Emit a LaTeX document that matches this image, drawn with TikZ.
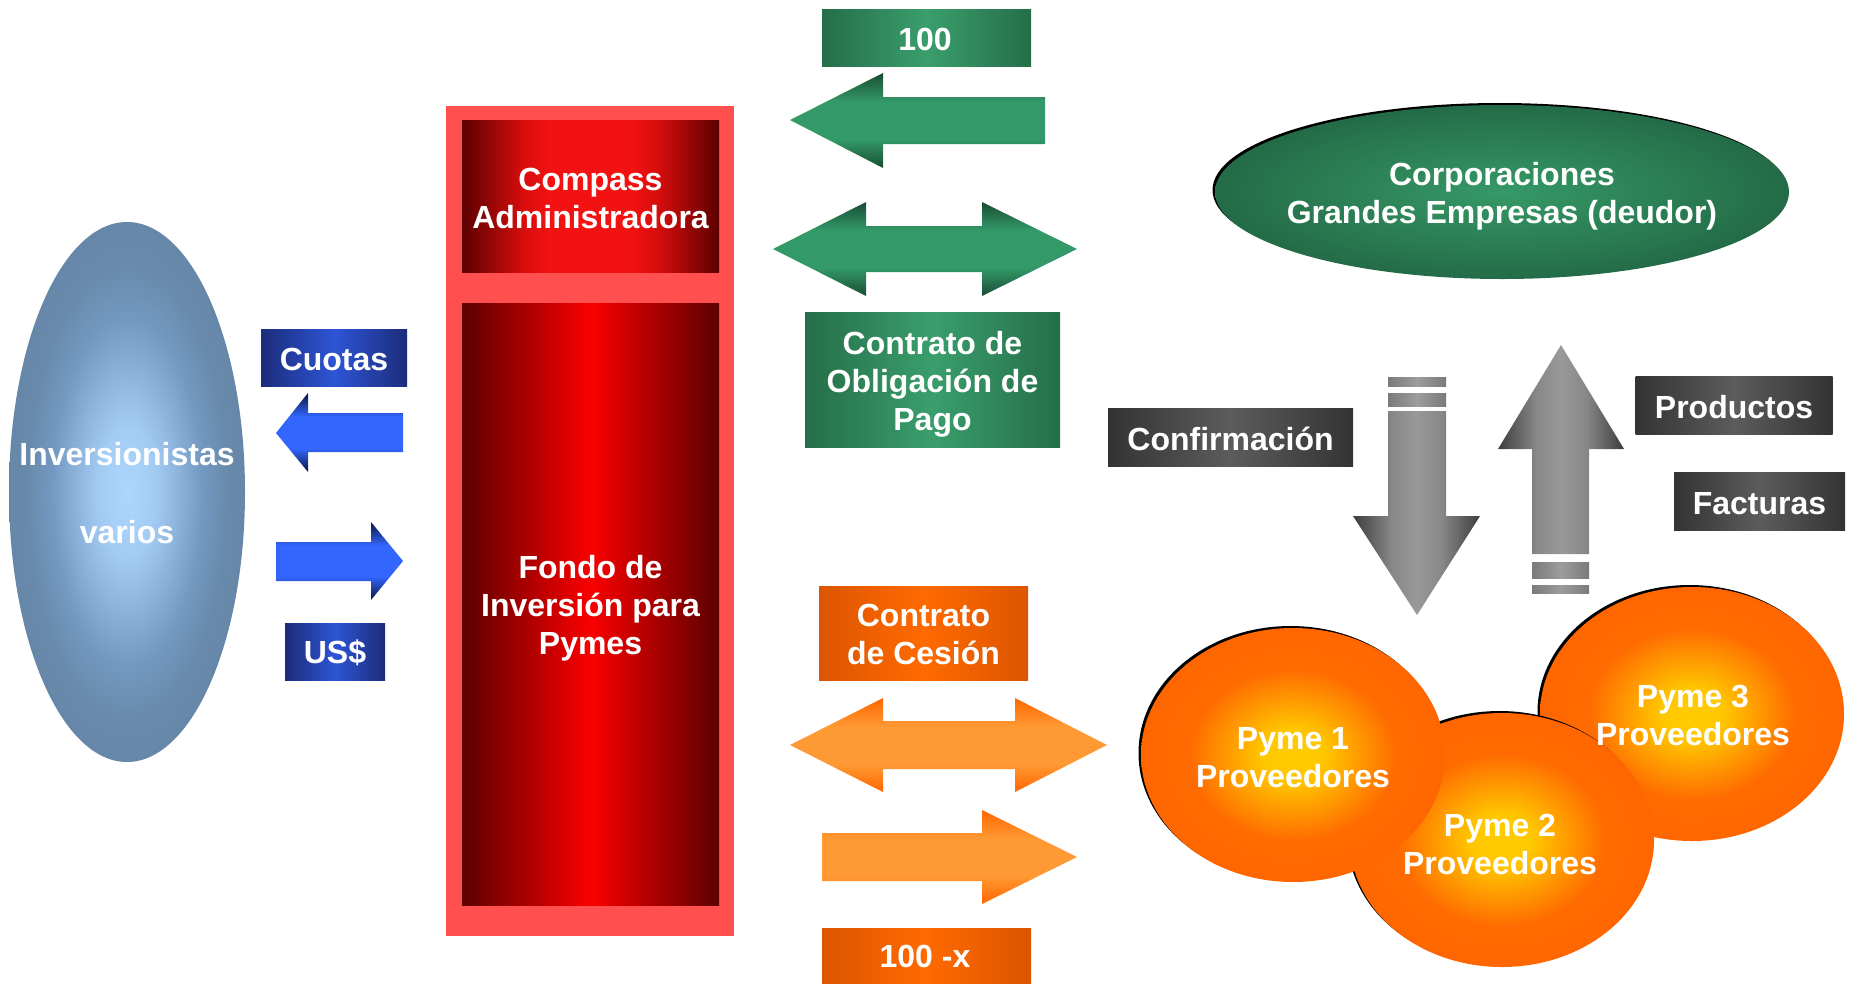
\documentclass[tikz,border=0pt]{standalone}
\usepackage{fontspec}
\setmainfont{Liberation Sans}
\usetikzlibrary{shapes.geometric}

\definecolor{redlight}{HTML}{FF4F4F}
\definecolor{rdark}{HTML}{5C0000}
\definecolor{rmidB}{HTML}{FA0000}
\definecolor{gEdge}{HTML}{256E48}
\definecolor{gCen}{HTML}{3A9E6C}
\definecolor{bEdge}{HTML}{1C2C7A}
\definecolor{bCen}{HTML}{2D55D6}
\definecolor{oEdge}{HTML}{DC5500}
\definecolor{oCen}{HTML}{FF6A00}
\definecolor{kEdge}{HTML}{333333}
\definecolor{kCen}{HTML}{5C5C5C}
\definecolor{sEdge}{HTML}{7A7A7A}
\definecolor{sCen}{HTML}{9C9C9C}

\pgfdeclarehorizontalshading{compassshade}{100bp}{rgb(0bp)=(0.36,0,0); rgb(25bp)=(0.36,0,0); rgb(37bp)=(0.85,0.05,0.05); rgb(42bp)=(0.95,0.07,0.07); rgb(58bp)=(0.95,0.07,0.07); rgb(63bp)=(0.85,0.05,0.05); rgb(75bp)=(0.36,0,0); rgb(100bp)=(0.36,0,0)}
\pgfdeclareverticalshading{greenarr}{100bp}{rgb(0bp)=(0.10,0.30,0.20); rgb(25bp)=(0.10,0.30,0.20); rgb(40bp)=(0.20,0.60,0.41); rgb(60bp)=(0.20,0.60,0.41); rgb(75bp)=(0.10,0.30,0.20); rgb(100bp)=(0.10,0.30,0.20)}
\pgfdeclareverticalshading{bluearr}{100bp}{rgb(0bp)=(0.04,0.08,0.25); rgb(25bp)=(0.04,0.08,0.25); rgb(40bp)=(0.20,0.40,1.00); rgb(60bp)=(0.20,0.40,1.00); rgb(75bp)=(0.04,0.08,0.25); rgb(100bp)=(0.04,0.08,0.25)}
\pgfdeclareverticalshading{orangearr}{100bp}{rgb(0bp)=(1,0.40,0); rgb(25bp)=(1,0.40,0); rgb(40bp)=(1,0.60,0.20); rgb(60bp)=(1,0.60,0.20); rgb(75bp)=(1,0.40,0); rgb(100bp)=(1,0.40,0)}
\pgfdeclarehorizontalshading{greyarr}{100bp}{rgb(0bp)=(0.24,0.24,0.24); rgb(25bp)=(0.24,0.24,0.24); rgb(40bp)=(0.53,0.53,0.53); rgb(50bp)=(0.60,0.60,0.60); rgb(60bp)=(0.53,0.53,0.53); rgb(75bp)=(0.24,0.24,0.24); rgb(100bp)=(0.24,0.24,0.24)}
\pgfdeclareradialshading{pymeshade}{\pgfpoint{0bp}{0bp}}{rgb(0bp)=(1,0.80,0); rgb(5bp)=(1,0.78,0); rgb(17bp)=(1,0.42,0); rgb(25bp)=(1,0.40,0); rgb(50bp)=(1,0.40,0)}
\pgfdeclareradialshading{invshade}{\pgfpoint{0bp}{0bp}}{rgb(0bp)=(0.68,0.84,1); rgb(6bp)=(0.64,0.80,0.96); rgb(16bp)=(0.45,0.60,0.76); rgb(21bp)=(0.41,0.54,0.67); rgb(25bp)=(0.40,0.53,0.66); rgb(50bp)=(0.40,0.53,0.66)}
\pgfdeclareradialshading{corpshade}{\pgfpoint{0bp}{0bp}}{rgb(0bp)=(0.21,0.60,0.40); rgb(25bp)=(0.14,0.42,0.28); rgb(50bp)=(0.14,0.42,0.28)}

\begin{document}
\begin{tikzpicture}[x=1pt,y=-1pt,
  lbl/.style={inner sep=0pt, text=white, font=\bfseries\fontsize{32}{38}\selectfont, align=center},
  box/.style={inner sep=0pt, rectangle},
  greenbox/.style={box, left color=gEdge, right color=gEdge, middle color=gCen},
  bluebox/.style={box, left color=bEdge, right color=bEdge, middle color=bCen},
  orangebox/.style={box, left color=oEdge, right color=oEdge, middle color=oCen},
  greybox/.style={box, left color=kEdge, right color=kEdge, middle color=kCen},
  stripe/.style={left color=sEdge, right color=sEdge, middle color=sCen},
  ovalshadow/.style={ellipse, inner sep=0pt, fill=black},
  pymeshape/.style={ellipse, inner sep=0pt, minimum width=304pt, minimum height=254pt, shade, shading=pymeshade}
]
\useasboundingbox (0,0) rectangle (1851,983);

% investors
\node[ellipse, inner sep=0pt, minimum width=236pt, minimum height=540pt, shade, shading=invshade] (inv) at (127,492) {};
\node[lbl, font=\bfseries\fontsize{32}{78}\selectfont] (invt) at (127,493) {Inversionistas\\varios};

% labels left
\node[bluebox, minimum width=146pt, minimum height=57pt] (cuotas) at (334,357.5) {};
\node[lbl] (cuotast) at (334,359) {Cuotas};
\node[bluebox, minimum width=100pt, minimum height=57pt] (usd) at (335,651.5) {};
\node[lbl] (usdt) at (335,653) {US\$};

% blue arrows
\path[shading=bluearr] (276,433) -- (308,393) -- (308,413) -- (403,413) -- (403,452) -- (308,452) -- (308,472) -- cycle;
\path[shading=bluearr] (403,561) -- (371,522) -- (371,542) -- (276,542) -- (276,581) -- (371,581) -- (371,600) -- cycle;

% fund
\node[fill=redlight, inner sep=0pt, minimum width=288pt, minimum height=830pt] (outer) at (590,521) {};
\node[box, minimum width=257pt, minimum height=152pt, shade, shading=compassshade] (compass) at (590.5,196) {};
\node[lbl] (compasst) at (590.5,198) {Compass\\Administradora};
\node[box, minimum width=257pt, minimum height=602pt, left color=rdark, right color=rdark, middle color=rmidB] (fondo) at (590.5,604) {};
\node[lbl] (fondot) at (590.5,608) {Fondo de\\Inversión para\\Pymes};

% green group
\node[greenbox, minimum width=209pt, minimum height=57pt] (n100) at (926.5,37.5) {};
\node[lbl] (n100t) at (925,39) {100};
\path[shading=greenarr] (790,120) -- (883,73) -- (883,97) -- (1045,97) -- (1045,144) -- (883,144) -- (883,168) -- cycle;
\path[shading=greenarr] (773,249) -- (866,202) -- (866,226) -- (982,226) -- (982,202) -- (1077,249) -- (982,296) -- (982,272) -- (866,272) -- (866,296) -- cycle;
\node[greenbox, minimum width=255pt, minimum height=135pt] (oblig) at (932.5,379.5) {};
\node[lbl] (obligt) at (932.5,384) {Contrato de\\Obligación de\\Pago};

% orange group
\node[orangebox, minimum width=209pt, minimum height=94pt] (cesion) at (923.5,633) {};
\node[lbl] (ciesiont) at (923.5,634) {Contrato\\de Cesión};
\path[shading=orangearr] (790,745) -- (883,698) -- (883,721) -- (1015,721) -- (1015,698) -- (1107,745) -- (1015,792) -- (1015,769) -- (883,769) -- (883,792) -- cycle;
\path[shading=orangearr] (1077,857) -- (982,810) -- (982,833) -- (822,833) -- (822,881) -- (982,881) -- (982,904) -- cycle;
\node[orangebox, minimum width=209pt, minimum height=55pt] (n100x) at (926.5,955.5) {};
\node[lbl] (n100xt) at (925,956) {100 -x};

% corporations
\node[ovalshadow, minimum width=574pt, minimum height=174pt] (corpsh) at (1499.5,190) {};
\node[ellipse, inner sep=0pt, minimum width=574pt, minimum height=174pt, shade, shading=corpshade] (corp) at (1502,192) {};
\node[lbl] (corpt) at (1502,196) {Corporaciones\\Grandes Empresas (deudor)};

% grey labels
\node[greybox, minimum width=245pt, minimum height=58pt] (conf) at (1230.5,437) {};
\node[lbl] (conft) at (1230.5,439) {Confirmación};
\node[greybox, minimum width=197pt, minimum height=58pt] (prod) at (1734,405) {};
\node[lbl] (prodt) at (1734,407) {Productos};
\node[greybox, minimum width=171pt, minimum height=58pt] (fact) at (1759.5,501.5) {};
\node[lbl] (factt) at (1759.5,503.5) {Facturas};

% grey arrows
\path[stripe] (1388,377) rectangle (1446,386);
\path[stripe] (1388,393) rectangle (1446,406);
\path[shading=greyarr] (1388,411) -- (1446,411) -- (1446,516) -- (1480,516) -- (1417,615) -- (1353,516) -- (1388,516) -- cycle;
\path[shading=greyarr] (1561,345) -- (1624,449) -- (1589,449) -- (1589,554) -- (1532,554) -- (1532,449) -- (1498,449) -- cycle;
\path[stripe] (1532,562) rectangle (1589,578);
\path[stripe] (1532,585) rectangle (1589,593);

% pymes
\node[ovalshadow, minimum width=304pt, minimum height=254pt] (p3s) at (1689.5,712) {};
\node[pymeshape] (p3) at (1692,714) {};
\node[ovalshadow, minimum width=304pt, minimum height=254pt] (p2s) at (1499.5,838) {};
\node[pymeshape] (p2) at (1502,840) {};
\node[ovalshadow, minimum width=304pt, minimum height=254pt] (p1s) at (1290.5,753) {};
\node[pymeshape] (p1) at (1293,755) {};
\node[lbl] (p3t) at (1693,715) {Pyme 3\\Proveedores};
\node[lbl] (p2t) at (1500,844) {Pyme 2\\Proveedores};
\node[lbl] (p1t) at (1293,758) {Pyme 1\\Proveedores};
\end{tikzpicture}
\end{document}
